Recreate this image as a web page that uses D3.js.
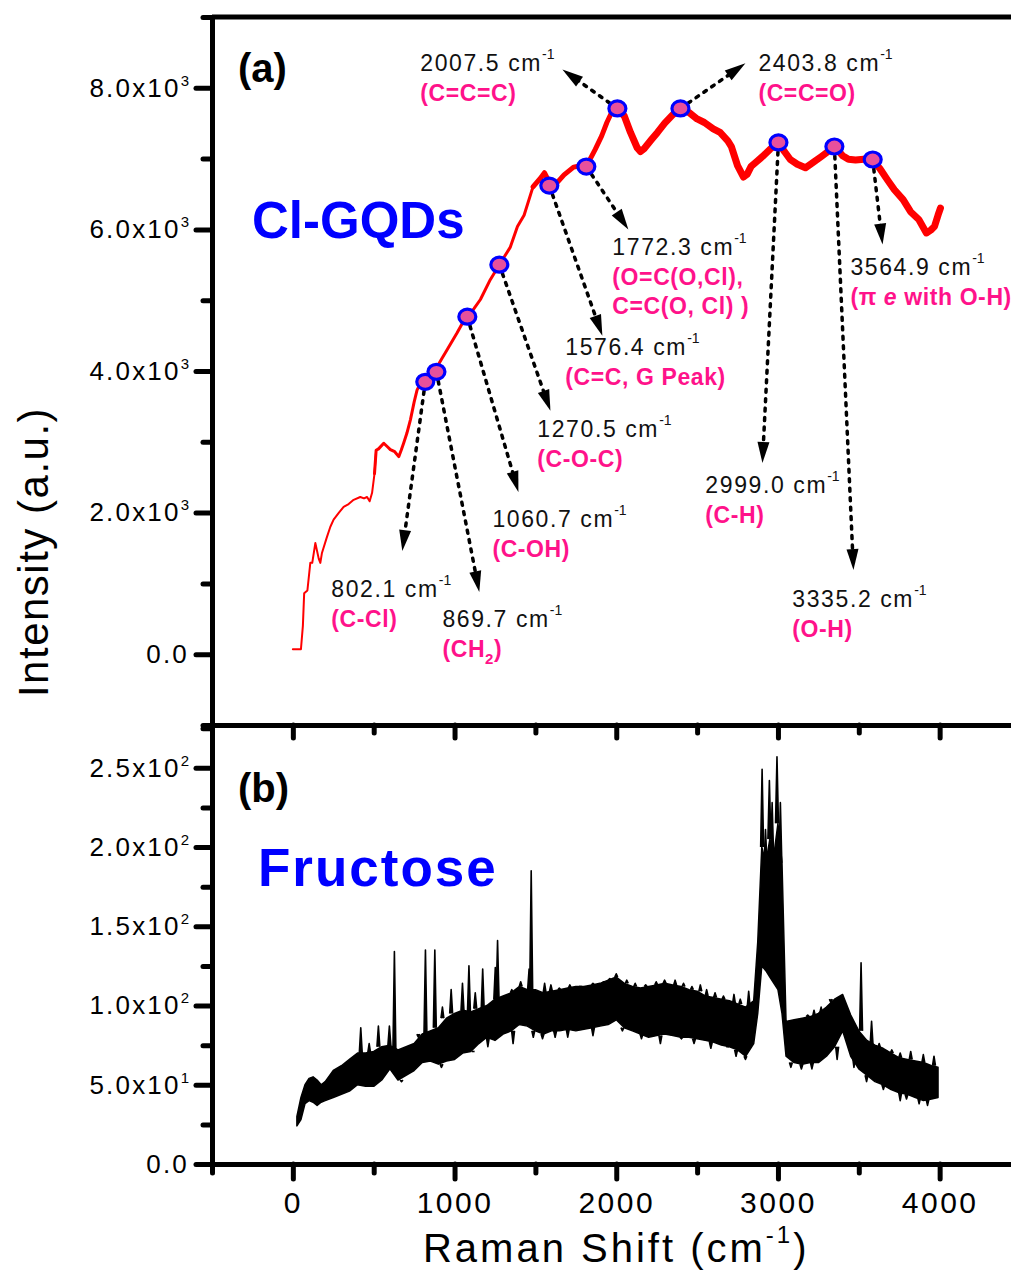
<!DOCTYPE html>
<html>
<head>
<meta charset="utf-8">
<script src="https://cdn.jsdelivr.net/npm/d3@7"></script>
<style>
  body { margin: 0; background: #fff; }
  text { font-family: Arial, "Liberation Sans", sans-serif; }
</style>
</head>
<body>
<div id="chart"></div>
<script>
// ---- data ----

// (a) Cl-GQDs spectrum: Raman shift (cm-1) and intensity (a.u.)
const gqdShift = [0, 50, 62, 70, 90, 108, 120, 139, 160, 170,
  180, 210, 232, 252, 285, 314, 345, 376, 417, 440,
  459, 475, 490, 505, 515, 530, 562, 585, 603, 630,
  655, 670, 685, 705, 727, 750, 768, 790, 820, 860,
  892, 920, 954, 985, 1016, 1045, 1077, 1120, 1160, 1221,
  1277, 1345, 1389, 1430, 1485, 1530, 1556, 1592, 1630, 1677,
  1736, 1780, 1815, 1870, 1910, 1942, 1979, 2013, 2050, 2088,
  2130, 2150, 2172, 2218, 2255, 2300, 2350, 2400, 2450, 2500,
  2545, 2600, 2642, 2690, 2712, 2750, 2787, 2810, 2834, 2870,
  2905, 2950, 3004, 3040, 3075, 3120, 3170, 3220, 3269, 3310,
  3352, 3400, 3436, 3480, 3530, 3582, 3630, 3677, 3720, 3774,
  3820, 3871, 3918, 3945, 3968, 3990, 4005];
const gqdIntensity = [70, 70, 400, 860, 900, 1290, 1290, 1570, 1350, 1290,
  1430, 1650, 1800, 1900, 2000, 2080, 2120, 2180, 2220, 2200,
  2220, 2160, 2280, 2550, 2880, 2900, 2980, 2930, 2890, 2860,
  2790, 2880, 2980, 3120, 3310, 3560, 3730, 3830, 3920, 3990,
  4060, 4170, 4300, 4420, 4540, 4660, 4770, 4880, 5010, 5290,
  5500, 5750, 6040, 6200, 6600, 6720, 6800, 6640, 6650, 6770,
  6880, 6900, 6890, 7130, 7320, 7510, 7690, 7700, 7600, 7370,
  7150, 7100, 7140, 7270, 7370, 7500, 7620, 7700, 7650, 7560,
  7510, 7420, 7370, 7250, 7170, 6900, 6740, 6780, 6890, 6960,
  7030, 7130, 7230, 7100, 6990, 6920, 6870, 6950, 7030, 7100,
  7170, 7040, 6990, 6980, 6990, 6990, 6860, 6700, 6560, 6420,
  6250, 6140, 5950, 5990, 6040, 6200, 6300];

// (b) Fructose: lower and upper edge of the noisy band
const fruShift = [25, 50, 75, 100, 125, 150, 175, 200, 250, 300,
  350, 400, 450, 500, 550, 600, 650, 700, 750, 800,
  850, 900, 950, 1000, 1050, 1100, 1150, 1200, 1250, 1300,
  1350, 1400, 1450, 1500, 1550, 1600, 1650, 1700, 1750, 1800,
  1850, 1900, 1950, 2000, 2050, 2100, 2150, 2200, 2250, 2300,
  2350, 2400, 2450, 2500, 2550, 2600, 2650, 2700, 2750, 2800,
  2850, 2875, 2900, 2925, 2950, 2975, 3000, 3025, 3050, 3100,
  3150, 3200, 3250, 3300, 3350, 3400, 3450, 3500, 3550, 3600,
  3650, 3700, 3750, 3800, 3850, 3900, 3950, 3990];
const fruLow = [24, 28, 38, 40, 39, 37, 39, 40, 42, 44,
  46, 50, 49, 49, 53, 60, 53, 56, 59, 64,
  65, 63, 65, 66, 70, 71, 76, 80, 78, 82,
  84, 88, 87, 84, 82, 84, 84, 85, 84, 85,
  86, 87, 88, 91, 86, 84, 82, 80, 81, 82,
  81, 80, 80, 79, 78, 77, 75, 74, 72, 68,
  76, 95, 125, 122, 118, 114, 110, 95, 68, 64,
  63, 64, 64, 68, 74, 84, 68, 60, 56, 52,
  50, 47, 45, 44, 42, 40, 41, 42];
const fruHigh = [30, 42, 50, 54, 55, 53, 50, 52, 59, 62,
  66, 70, 70, 71, 74, 75, 72, 74, 76, 82,
  84, 86, 92, 95, 97, 96, 98, 100, 104, 106,
  108, 112, 110, 110, 108, 109, 110, 111, 112, 112,
  113, 114, 116, 118, 114, 112, 111, 112, 113, 114,
  113, 112, 110, 109, 106, 105, 104, 103, 101, 99,
  103, 140, 200, 190, 205, 195, 215, 190, 90, 91,
  92, 93, 95, 99, 104, 107, 94, 84, 78, 75,
  73, 70, 67, 66, 65, 64, 62, 61];
// sharp spikes above the band and dips below it
const spikeShift = [420, 472, 529, 597, 628, 776, 820, 878, 925, 979,
  1049, 1089, 1128, 1174, 1252, 1266, 1354, 1409, 1461, 1474,
  1557, 1596, 1648, 1713, 1778, 1856, 1921, 1960, 2000, 2065,
  2117, 2182, 2247, 2299, 2364, 2416, 2468, 2520, 2559, 2611,
  2663, 2728, 2767, 2819, 2902, 2923, 2947, 2964, 2994, 3015,
  3184, 3223, 3267, 3327, 3514, 3579, 3626, 3704, 3756, 3821,
  3899, 3965];
const spikeTop = [86, 76, 87, 87, 134, 80, 135, 135, 99, 110,
  114, 125, 108, 123, 124, 141, 110, 115, 123, 185,
  114, 113, 111, 113, 112, 114, 115, 117, 120, 116,
  114, 113, 115, 116, 116, 114, 112, 113, 110, 108,
  106, 107, 104, 109, 249, 211, 242, 228, 257, 228,
  94, 97, 99, 102, 127, 90, 76, 72, 70, 71,
  69, 68];
const dipShift = [672, 919, 1115, 1206, 1362, 1487, 1544, 1622, 1700, 1856,
  2038, 2156, 2273, 2403, 2481, 2585, 2689, 2741, 2799, 3080,
  3145, 3210, 3366, 3470, 3548, 3652, 3756, 3795, 3873, 3925];
const dipBottom = [52, 61, 71, 74, 76, 80, 79, 80, 80, 81,
  84, 79, 76, 79, 76, 73, 74, 68, 66, 61,
  60, 60, 66, 61, 52, 47, 40, 41, 38, 37];

// peak assignments in (a)
const peakShift = [802.1, 869.7, 1060.7, 1270.5, 1576.4, 1772.3, 2007.5, 2403.8, 2999.0, 3335.2, 3564.9];
const peakBond = ["(C-Cl)", "(CH{2})", "(C-OH)", "(C-O-C)", "(C=C, G Peak)",
  "(O=C(O,Cl),|C=C(O, Cl) )", "(C=C=C)", "(C=C=O)", "(C-H)", "(O-H)", "(\u03c0 [e] with O-H)"];

// axis ticks
const topTicks = [0, 2000, 4000, 6000, 8000];
const topTickText = ["0.0", "2.0x10", "4.0x10", "6.0x10", "8.0x10"];
const topTickExp = ["", "3", "3", "3", "3"];
const botTicks = [0, 50, 100, 150, 200, 250];
const botTickText = ["0.0", "5.0x10", "1.0x10", "1.5x10", "2.0x10", "2.5x10"];
const botTickExp = ["", "1", "2", "2", "2", "2"];
const xTicks = [0, 1000, 2000, 3000, 4000];

// annotation placement (data units): marker, arrow tip, label corner
const markAt = [[819, 3847], [888, 3989], [1079, 4767], [1277, 5502], [1586, 6619], [1815, 6888],
  [2007, 7708], [2397, 7708], [3003, 7228], [3349, 7171], [3586, 6987]];
const tipAt = [[677, 1457], [1153, 877], [1395, 2291], [1593, 3437], [1914, 4498], [2075, 5997],
  [1667, 8260], [2799, 8345], [2904, 2701], [3467, 1188], [3647, 5785]];
const labelAt = [[238, 806], [925, 382], [1234, 1796], [1512, 3069], [1685, 4229], [1976, 5643],
  [788, 8232], [2879, 8232], [2551, 2277], [3089, 665], [3448, 5361]];

// ---- drawing ----
const width = 1011, height = 1273;
const pink = "#ff128a";

const svg = d3.select("#chart").append("svg")
  .attr("width", width).attr("height", height)
  .style("display", "block");
svg.append("rect").attr("width", width).attr("height", height).attr("fill", "#fff");

const x = d3.scaleLinear().domain([-500, 4500]).range([212, 1020.5]);
const yTop = d3.scaleLinear().domain([-1000, 9000]).range([725, 17]);
const yBot = d3.scaleLinear().domain([0, 277]).range([1164, 725]);

// spectrum (a), line gets thicker where the signal is noisier
const gqd = gqdShift.map((s, i) => ({ x: s, v: gqdIntensity[i] }));
const redLine = d3.line().x(d => x(d.x)).y(d => yTop(d.v));
const redParts = [[0, 520, 2], [500, 1500, 3], [1480, 1985, 5], [1970, 4010, 7]];
redParts.forEach(p => {
  svg.append("path")
    .datum(gqd.filter(d => d.x >= p[0] && d.x <= p[1]))
    .attr("d", redLine)
    .attr("fill", "none")
    .attr("stroke", "#ff0000")
    .attr("stroke-width", p[2])
    .attr("stroke-linejoin", "round")
    .attr("stroke-linecap", "round");
});

// spectrum (b)
const fru = fruShift.map((s, i) => ({ x: s, lo: fruLow[i], hi: fruHigh[i] }));
svg.append("path")
  .datum(fru)
  .attr("d", d3.area().x(d => x(d.x)).y0(d => yBot(d.lo)).y1(d => yBot(d.hi)))
  .attr("fill", "#000")
  .attr("stroke", "#000")
  .attr("stroke-width", 1.5)
  .attr("stroke-linejoin", "round");

const nearest = d3.bisector(d => d.x).center;
const spikes = spikeShift.map((s, i) => ({ x: s, end: spikeTop[i], base: fru[nearest(fru, s)].hi }))
  .concat(dipShift.map((s, i) => ({ x: s, end: dipBottom[i], base: fru[nearest(fru, s)].lo })));
svg.append("g").selectAll("path")
  .data(spikes)
  .join("path")
  .attr("d", d => `M${x(d.x - 9)},${yBot(d.base)}L${x(d.x)},${yBot(d.end)}L${x(d.x + 9)},${yBot(d.base)}`)
  .attr("fill", "#000")
  .attr("stroke", "#000")
  .attr("stroke-width", 1.6)
  .attr("stroke-linejoin", "round");

// ---- axes ----
function styleAxis(g, fontSize) {
  g.attr("font-family", null).attr("font-size", null);
  g.select(".domain").attr("stroke-width", 5).attr("stroke", "#000");
  g.selectAll(".tick line").attr("stroke-width", 5).attr("stroke", "#000").attr("stroke-linecap", "round");
  g.selectAll(".tick text").attr("fill", "#000").style("font-size", fontSize + "px");
}

function yLabels(g, texts, exps) {
  g.selectAll(".tick text").each(function (d, i) {
    const t = d3.select(this).text(null).style("letter-spacing", "2.2px");
    t.append("tspan").text(texts[i]);
    if (exps[i]) t.append("tspan").attr("dy", -11).style("font-size", "15px").style("letter-spacing", "0px").text(exps[i]);
  });
}

const minorTop = d3.range(-1000, 9001, 1000).filter(v => v % 2000 !== 0);
svg.append("g").attr("transform", "translate(212,0)")
  .call(d3.axisLeft(yTop).tickValues(minorTop).tickSize(9).tickSizeOuter(0).tickFormat(""))
  .call(g => styleAxis(g, 26));
svg.append("g").attr("transform", "translate(212,0)")
  .call(d3.axisLeft(yTop).tickValues(topTicks).tickSize(16).tickSizeOuter(0).tickPadding(7))
  .call(g => styleAxis(g, 26))
  .call(g => yLabels(g, topTickText, topTickExp));

const minorBot = d3.range(25, 277, 50);
svg.append("g").attr("transform", "translate(212,0)")
  .call(d3.axisLeft(yBot).tickValues(minorBot).tickSize(9).tickSizeOuter(0).tickFormat(""))
  .call(g => styleAxis(g, 26));
svg.append("g").attr("transform", "translate(212,0)")
  .call(d3.axisLeft(yBot).tickValues(botTicks).tickSize(16).tickSizeOuter(0).tickPadding(7))
  .call(g => styleAxis(g, 26))
  .call(g => yLabels(g, botTickText, botTickExp));

const minorX = [-500, 500, 1500, 2500, 3500];
// shared line between the panels, ticks pointing down
svg.append("g").attr("transform", "translate(0,725)")
  .call(d3.axisBottom(x).tickValues(minorX).tickSize(8).tickSizeOuter(0).tickFormat(""))
  .call(g => styleAxis(g, 30));
svg.append("g").attr("transform", "translate(0,725)")
  .call(d3.axisBottom(x).tickValues(xTicks).tickSize(13).tickSizeOuter(0).tickFormat(""))
  .call(g => styleAxis(g, 30));
// bottom axis
svg.append("g").attr("transform", "translate(0,1164)")
  .call(d3.axisBottom(x).tickValues(minorX).tickSize(9).tickSizeOuter(0).tickFormat(""))
  .call(g => styleAxis(g, 30));
svg.append("g").attr("transform", "translate(0,1164)")
  .call(d3.axisBottom(x).tickValues(xTicks).tickSize(15).tickSizeOuter(0).tickPadding(13).tickFormat(d3.format("d")))
  .call(g => styleAxis(g, 30))
  .call(g => g.selectAll(".tick text").style("letter-spacing", "2.5px"));

// top frame line
svg.append("line")
  .attr("x1", x(-500)).attr("x2", width + 5)
  .attr("y1", yTop(9000)).attr("y2", yTop(9000))
  .attr("stroke", "#000").attr("stroke-width", 5);

// axis titles
svg.append("text")
  .attr("transform", "translate(48,552) rotate(-90)")
  .attr("text-anchor", "middle")
  .style("font-size", "42px")
  .style("letter-spacing", "1.5px")
  .text("Intensity (a.u.)");

const xt = svg.append("text")
  .attr("x", x(2000)).attr("y", 1262)
  .attr("text-anchor", "middle")
  .style("font-size", "40px")
  .style("letter-spacing", "3px");
xt.append("tspan").text("Raman Shift (cm");
xt.append("tspan").attr("dy", -19).style("font-size", "24px").text("-1");
xt.append("tspan").attr("dy", 19).text(")");

// panel labels
svg.append("text").attr("x", 238).attr("y", 82)
  .style("font-size", "40px").style("font-weight", "bold").text("(a)");
svg.append("text").attr("x", 238).attr("y", 802)
  .style("font-size", "40px").style("font-weight", "bold").text("(b)");
svg.append("text").attr("x", 252).attr("y", 238)
  .style("font-size", "51px").style("font-weight", "bold").attr("fill", "#0000ff").text("Cl-GQDs");
svg.append("text").attr("x", 258).attr("y", 886)
  .style("font-size", "53px").style("font-weight", "bold").style("letter-spacing", "2px")
  .attr("fill", "#0000ff").text("Fructose");

// ---- peak annotations ----
const annG = svg.append("g");
peakShift.forEach((p, i) => {
  const mx = x(markAt[i][0]), my = yTop(markAt[i][1]);
  const tx = x(tipAt[i][0]), ty = yTop(tipAt[i][1]);
  const len = Math.hypot(tx - mx, ty - my);
  const ux = (tx - mx) / len, uy = (ty - my) / len;
  const head = 21, half = 6;

  annG.append("line")
    .attr("x1", mx).attr("y1", my)
    .attr("x2", tx - ux * (head - 2)).attr("y2", ty - uy * (head - 2))
    .attr("stroke", "#000").attr("stroke-width", 3.5)
    .attr("stroke-dasharray", "3,6.5").attr("stroke-linecap", "round");

  const bx = tx - ux * head, by = ty - uy * head;
  annG.append("path")
    .attr("d", `M${tx},${ty}L${bx - uy * half},${by + ux * half}L${bx + uy * half},${by - ux * half}Z`)
    .attr("fill", "#000");
});

annG.selectAll("ellipse")
  .data(markAt)
  .join("ellipse")
  .attr("cx", d => x(d[0])).attr("cy", d => yTop(d[1]))
  .attr("rx", 8.5).attr("ry", 7.5)
  .attr("fill", "#e8509c")
  .attr("stroke", "#0000ff").attr("stroke-width", 3.2);

peakShift.forEach((p, i) => {
  const lx = x(labelAt[i][0]), ly = yTop(labelAt[i][1]);
  const num = annG.append("text").attr("x", lx).attr("y", ly)
    .style("font-size", "23px").style("letter-spacing", "1.6px").attr("fill", "#111");
  num.append("tspan").text(p.toFixed(1) + " cm");
  num.append("tspan").attr("dy", -12).style("font-size", "14px").style("letter-spacing", "0px").text("-1");

  peakBond[i].split("|").forEach((line, j) => {
    const t = annG.append("text").attr("x", lx).attr("y", ly + 30 + j * 29)
      .style("font-size", "23px").style("font-weight", "bold")
      .style("letter-spacing", "0.6px").attr("fill", pink);
    let shift = 0;
    line.split(/(\{[^}]*\}|\[[^\]]*\])/).filter(s => s.length).forEach(part => {
      if (part[0] === "{") {
        t.append("tspan").attr("dy", 7).style("font-size", "15px").text(part.slice(1, -1));
        shift = -7;
      } else if (part[0] === "[") {
        t.append("tspan").attr("dy", shift).style("font-style", "italic").text(part.slice(1, -1));
        shift = 0;
      } else {
        t.append("tspan").attr("dy", shift).text(part);
        shift = 0;
      }
    });
  });
});
</script>
</body>
</html>
